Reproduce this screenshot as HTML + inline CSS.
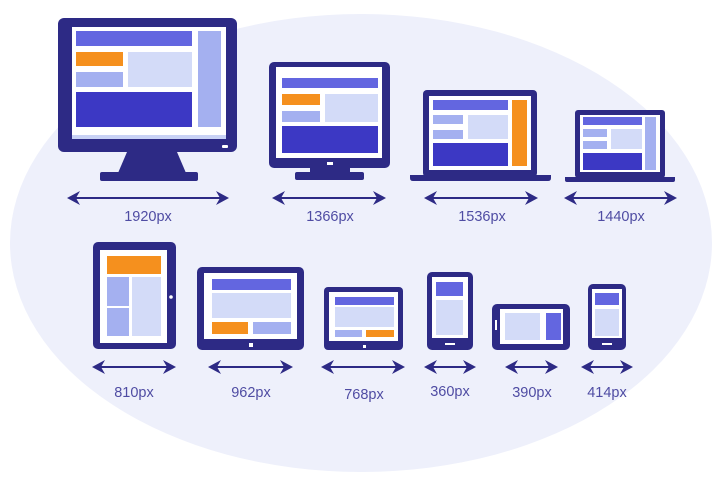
<!DOCTYPE html>
<html><head><meta charset="utf-8"><style>
html,body{margin:0;padding:0;background:#fff;width:720px;height:495px;overflow:hidden}
text{font-family:"Liberation Sans",sans-serif;font-size:14.5px;fill:#4f4ca3;text-anchor:middle}
</style></head><body>
<svg width="720" height="495" viewBox="0 0 720 495" xmlns="http://www.w3.org/2000/svg">
<defs>
<g id="ah"><path d="M0,0 L13,-7 L9,0 L13,7 Z" fill="#2d2a85"/></g>
</defs>
<ellipse cx="361" cy="243" rx="351" ry="229" fill="#eef0fb"/>

<!-- Monitor 1 -->
<path d="M127,152 L177,152 L186,173 L118,173 Z" fill="#2d2a85"/>
<rect x="100" y="172" width="98" height="9" rx="2" fill="#2d2a85"/>
<rect x="58" y="18" width="179" height="134" rx="6" fill="#2d2a85"/>
<rect x="72" y="27" width="154" height="112" fill="#fff"/>
<rect x="72" y="135" width="154" height="4" fill="#c9d2f5"/>
<rect x="76" y="31" width="116" height="15" fill="#6366e0"/>
<rect x="198" y="31" width="23" height="96" fill="#a4b0f0"/>
<rect x="76" y="52" width="47" height="14" fill="#f5901e"/>
<rect x="76" y="72" width="47" height="15" fill="#a4b0f0"/>
<rect x="128" y="52" width="64" height="35" fill="#d3dbf8"/>
<rect x="76" y="92" width="116" height="35" fill="#3c38c4"/>
<rect x="222" y="145" width="6" height="3" rx="1" fill="#fff"/>

<!-- Monitor 2 -->
<rect x="310" y="166" width="40" height="8" fill="#2d2a85"/>
<rect x="295" y="172" width="69" height="8" rx="2" fill="#2d2a85"/>
<rect x="269" y="62" width="121" height="106" rx="5" fill="#2d2a85"/>
<rect x="276" y="67" width="106" height="91" fill="#fff"/>
<rect x="282" y="78" width="96" height="10" fill="#6366e0"/>
<rect x="282" y="94" width="38" height="11" fill="#f5901e"/>
<rect x="282" y="111" width="38" height="11" fill="#a4b0f0"/>
<rect x="325" y="94" width="53" height="28" fill="#d3dbf8"/>
<rect x="282" y="126" width="96" height="27" fill="#3c38c4"/>
<rect x="327" y="162" width="6" height="3" fill="#fff"/>

<!-- Laptop 1 -->
<rect x="423" y="90" width="114" height="87" rx="4" fill="#2d2a85"/>
<rect x="429" y="96" width="102" height="74" fill="#fff"/>
<rect x="433" y="100" width="75" height="10" fill="#6366e0"/>
<rect x="512" y="100" width="15" height="66" fill="#f5901e"/>
<rect x="433" y="115" width="30" height="9" fill="#a4b0f0"/>
<rect x="433" y="130" width="30" height="9" fill="#a4b0f0"/>
<rect x="468" y="115" width="40" height="24" fill="#d3dbf8"/>
<rect x="433" y="143" width="75" height="23" fill="#3c38c4"/>
<path d="M410,175 L551,175 L551,178 Q551,181 548,181 L413,181 Q410,181 410,178 Z" fill="#2d2a85"/>

<!-- Laptop 2 -->
<rect x="575" y="110" width="90" height="68" rx="3" fill="#2d2a85"/>
<rect x="580" y="115" width="80" height="57" fill="#fff"/>
<rect x="583" y="117" width="59" height="8" fill="#6366e0"/>
<rect x="645" y="117" width="11" height="53" fill="#a4b0f0"/>
<rect x="583" y="129" width="24" height="8" fill="#a4b0f0"/>
<rect x="583" y="141" width="24" height="8" fill="#a4b0f0"/>
<rect x="611" y="129" width="31" height="20" fill="#d3dbf8"/>
<rect x="583" y="153" width="59" height="17" fill="#3c38c4"/>
<path d="M565,177 L675,177 L675,180 Q675,182 673,182 L567,182 Q565,182 565,180 Z" fill="#2d2a85"/>

<!-- Tablet portrait -->
<rect x="93" y="242" width="83" height="107" rx="5" fill="#2d2a85"/>
<rect x="100" y="250" width="67" height="93" fill="#fff"/>
<rect x="107" y="256" width="54" height="18" fill="#f5901e"/>
<rect x="107" y="277" width="22" height="29" fill="#a4b0f0"/>
<rect x="107" y="308" width="22" height="28" fill="#a4b0f0"/>
<rect x="132" y="277" width="29" height="59" fill="#d3dbf8"/>
<circle cx="171" cy="297" r="1.8" fill="#fff"/>

<!-- Tablet landscape -->
<rect x="197" y="267" width="107" height="83" rx="5" fill="#2d2a85"/>
<rect x="204" y="273" width="93" height="66" fill="#fff"/>
<rect x="212" y="279" width="79" height="11" fill="#6366e0"/>
<rect x="212" y="293" width="79" height="25" fill="#d3dbf8"/>
<rect x="212" y="322" width="36" height="12" fill="#f5901e"/>
<rect x="253" y="322" width="38" height="12" fill="#a4b0f0"/>
<rect x="249" y="343" width="4" height="4" fill="#fff"/>

<!-- Tablet small -->
<rect x="324" y="287" width="79" height="63" rx="4" fill="#2d2a85"/>
<rect x="329" y="292" width="69" height="49" fill="#fff"/>
<rect x="335" y="297" width="59" height="8" fill="#6366e0"/>
<rect x="335" y="307" width="59" height="20" fill="#d3dbf8"/>
<rect x="335" y="330" width="27" height="7" fill="#a4b0f0"/>
<rect x="366" y="330" width="28" height="7" fill="#f5901e"/>
<rect x="363" y="345" width="3" height="3" fill="#fff"/>

<!-- Phone 1 -->
<rect x="427" y="272" width="46" height="78" rx="5" fill="#2d2a85"/>
<rect x="432" y="277" width="36" height="61" fill="#fff"/>
<rect x="436" y="282" width="27" height="14" fill="#6366e0"/>
<rect x="436" y="300" width="27" height="35" fill="#d3dbf8"/>
<rect x="445" y="343" width="10" height="2" fill="#fff"/>

<!-- Phone landscape -->
<rect x="492" y="304" width="78" height="46" rx="5" fill="#2d2a85"/>
<rect x="500" y="309" width="63" height="35" fill="#fff"/>
<rect x="505" y="313" width="35" height="27" fill="#d3dbf8"/>
<rect x="546" y="313" width="15" height="27" fill="#6366e0"/>
<rect x="495" y="320" width="2" height="10" fill="#fff"/>

<!-- Phone 3 -->
<rect x="588" y="284" width="38" height="66" rx="5" fill="#2d2a85"/>
<rect x="592" y="289" width="30" height="49" fill="#fff"/>
<rect x="595" y="293" width="24" height="12" fill="#6366e0"/>
<rect x="595" y="309" width="24" height="27" fill="#d3dbf8"/>
<rect x="602" y="343" width="10" height="2" fill="#fff"/>

<!-- Arrows -->
<g stroke="#2d2a85" stroke-width="2">
<line x1="72" y1="198" x2="224" y2="198"/>
<line x1="277" y1="198" x2="381" y2="198"/>
<line x1="429" y1="198" x2="533" y2="198"/>
<line x1="569" y1="198" x2="672" y2="198"/>
<line x1="97" y1="367" x2="171" y2="367"/>
<line x1="213" y1="367" x2="288" y2="367"/>
<line x1="326" y1="367" x2="400" y2="367"/>
<line x1="429" y1="367" x2="471" y2="367"/>
<line x1="510" y1="367" x2="553" y2="367"/>
<line x1="586" y1="367" x2="628" y2="367"/>
</g>
<g>
<use href="#ah" x="67" y="198"/><use href="#ah" transform="translate(229,198) scale(-1,1)"/>
<use href="#ah" x="272" y="198"/><use href="#ah" transform="translate(386,198) scale(-1,1)"/>
<use href="#ah" x="424" y="198"/><use href="#ah" transform="translate(538,198) scale(-1,1)"/>
<use href="#ah" x="564" y="198"/><use href="#ah" transform="translate(677,198) scale(-1,1)"/>
<use href="#ah" x="92" y="367"/><use href="#ah" transform="translate(176,367) scale(-1,1)"/>
<use href="#ah" x="208" y="367"/><use href="#ah" transform="translate(293,367) scale(-1,1)"/>
<use href="#ah" x="321" y="367"/><use href="#ah" transform="translate(405,367) scale(-1,1)"/>
<use href="#ah" x="424" y="367"/><use href="#ah" transform="translate(476,367) scale(-1,1)"/>
<use href="#ah" x="505" y="367"/><use href="#ah" transform="translate(558,367) scale(-1,1)"/>
<use href="#ah" x="581" y="367"/><use href="#ah" transform="translate(633,367) scale(-1,1)"/>
</g>

<!-- Labels -->
<text x="148" y="221">1920px</text>
<text x="330" y="221">1366px</text>
<text x="482" y="221">1536px</text>
<text x="621" y="221">1440px</text>
<text x="134" y="397">810px</text>
<text x="251" y="397">962px</text>
<text x="364" y="399">768px</text>
<text x="450" y="396">360px</text>
<text x="532" y="397">390px</text>
<text x="607" y="397">414px</text>
</svg>
</body></html>
